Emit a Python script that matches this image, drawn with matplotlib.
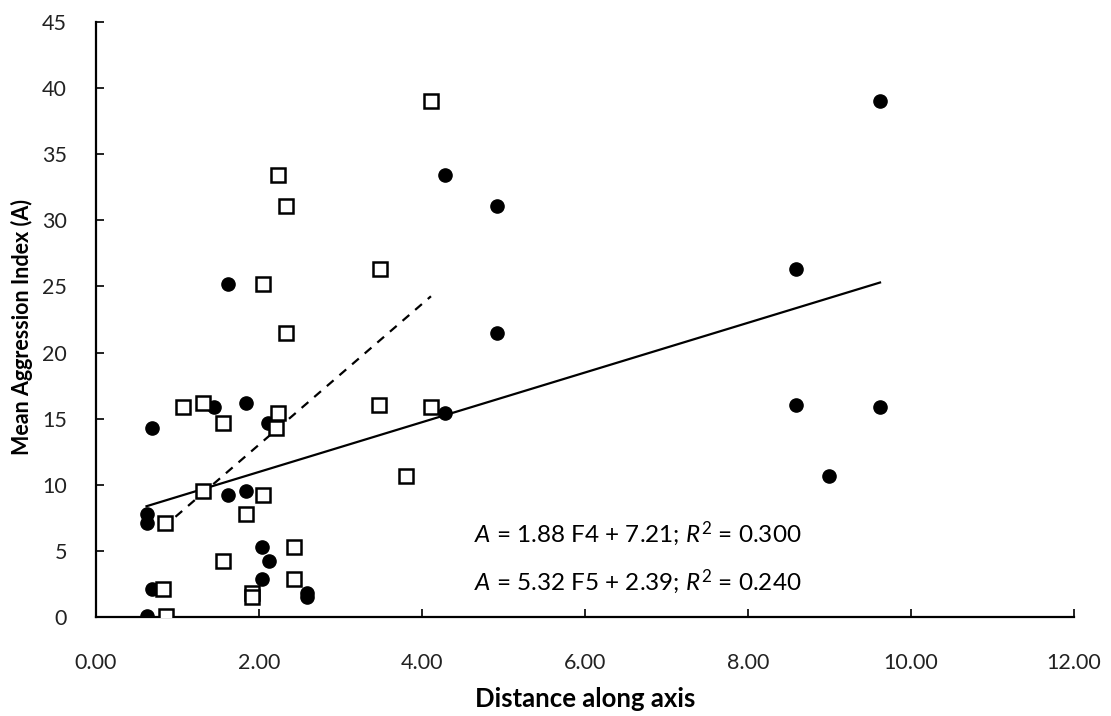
import numpy as np
import matplotlib
matplotlib.use("Agg")
import matplotlib.pyplot as plt
from matplotlib.ticker import MultipleLocator, FormatStrFormatter

plt.rcParams['font.family'] = ['Lato', 'DejaVu Sans']
plt.rcParams['mathtext.fontset'] = 'custom'
plt.rcParams['mathtext.rm'] = 'Lato'
plt.rcParams['mathtext.it'] = 'Lato:italic'
plt.rcParams['mathtext.bf'] = 'Lato:bold'

# aggression index per group (same response for both predictors)
aggression = [39.0, 33.4, 31.1, 26.3, 25.2, 21.5, 16.0, 15.9, 10.7, 15.4,
              14.3, 15.9, 16.2, 14.7, 9.2, 9.5, 7.8, 7.1, 5.3, 4.2,
              2.9, 1.8, 1.5, 2.1, 0.1]

# distance along axis F4 (filled circles)
f4 = [9.62, 4.28, 4.92, 8.59, 1.62, 4.92, 8.59, 9.62, 8.99, 4.28,
      0.69, 1.45, 1.84, 2.11, 1.62, 1.84, 0.62, 0.62, 2.04, 2.12,
      2.04, 2.59, 2.59, 0.69, 0.62]

# distance along axis F5 (open squares)
f5 = [4.11, 2.23, 2.33, 3.48, 2.05, 2.33, 3.47, 4.11, 3.80, 2.23,
      2.21, 1.07, 1.31, 1.56, 2.05, 1.31, 1.84, 0.85, 2.43, 1.56,
      2.43, 1.91, 1.91, 0.82, 0.86]

# regression coefficients (slope, intercept, R^2)
fit_f4 = (1.88, 7.21, 0.300)
fit_f5 = (5.32, 2.39, 0.240)

fig = plt.figure(figsize=(11.11, 7.16), dpi=100)
ax = fig.add_axes([0.0864, 0.1383, 0.8803, 0.831])

ax.plot(f4, aggression, 'o', color='black', markersize=9.5, zorder=3)
ax.plot(f5, aggression, 's', markerfacecolor='white', markeredgecolor='black',
        markeredgewidth=1.8, markersize=10.5, zorder=3)

x4 = np.array([min(f4), max(f4)])
ax.plot(x4, fit_f4[0] * x4 + fit_f4[1], '-', color='black', linewidth=1.6, zorder=2)
x5 = np.array([min(f5), max(f5)])
ax.plot(x5, fit_f5[0] * x5 + fit_f5[1], '--', color='black', linewidth=1.6,
        dashes=(4, 3.5), zorder=2)

ax.text(4.64, 6.3, r'$\it{A}$ = %.2f F4 + %.2f; $\it{R}^2$ = %.3f' % fit_f4,
        fontsize=17.5, va='center', ha='left')
ax.text(4.64, 2.7, r'$\it{A}$ = %.2f F5 + %.2f; $\it{R}^2$ = %.3f' % fit_f5,
        fontsize=17.5, va='center', ha='left')

ax.set_xlim(0, 12)
ax.set_ylim(0, 45)
ax.xaxis.set_major_locator(MultipleLocator(2))
ax.xaxis.set_major_formatter(FormatStrFormatter('%.2f'))
ax.yaxis.set_major_locator(MultipleLocator(5))

for side in ['top', 'right']:
    ax.spines[side].set_visible(False)
for side in ['left', 'bottom']:
    ax.spines[side].set_linewidth(1.6)
ax.tick_params(direction='in', length=6, width=1.4, labelsize=15.5,
               colors='#222222')
ax.tick_params(axis='x', pad=26)
ax.tick_params(axis='y', pad=21)

ax.set_xlabel('Distance along axis', fontsize=18.5, fontweight='bold')
ax.xaxis.set_label_coords(0.5, -0.118)
ax.set_ylabel('Mean Aggression Index (A)', fontsize=15.5, fontweight='bold')
ax.yaxis.set_label_coords(-0.064, 0.487)

fig.savefig('out.png', dpi=100)
